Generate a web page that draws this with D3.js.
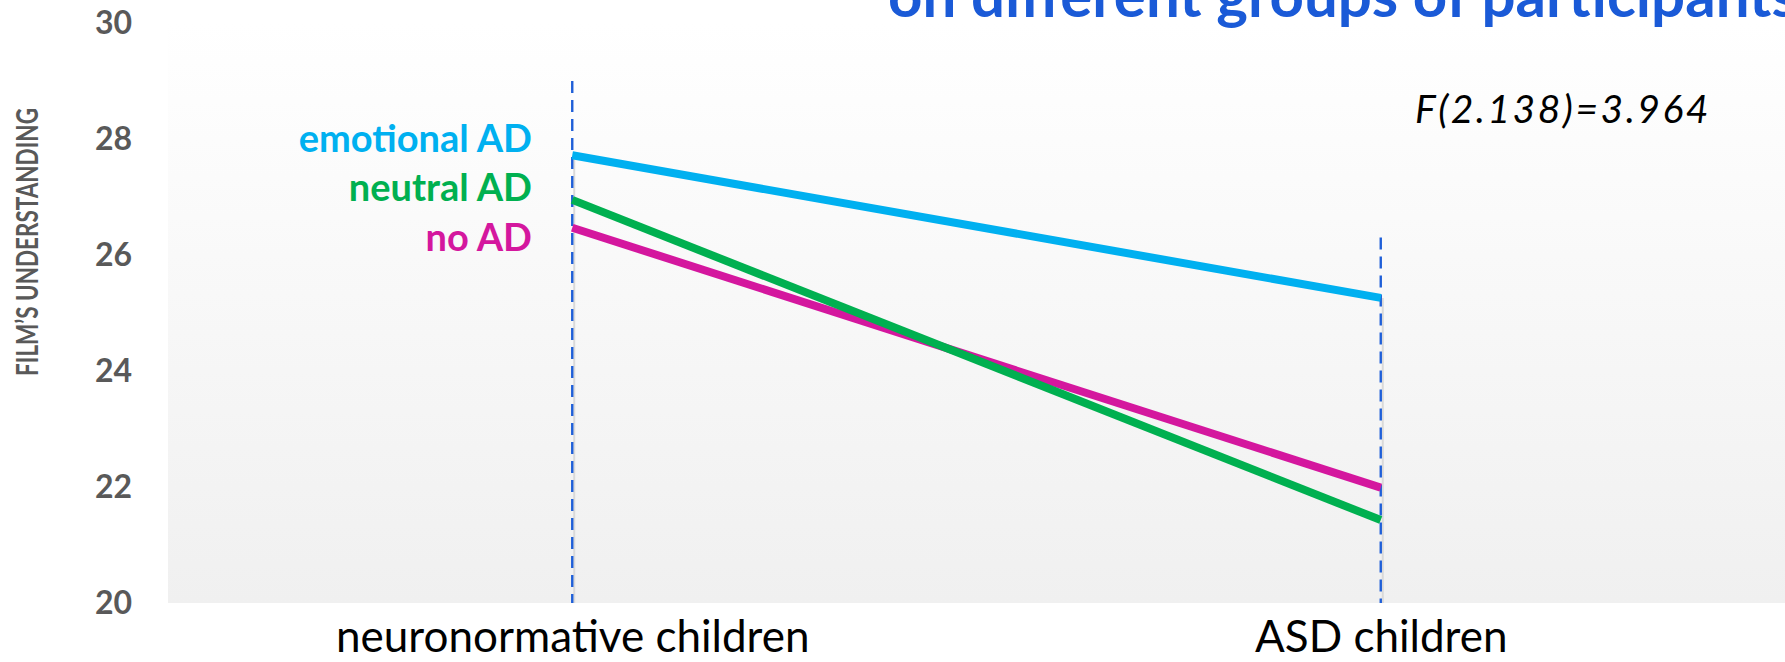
<!DOCTYPE html>
<html>
<head>
<meta charset="utf-8">
<script src="https://cdn.jsdelivr.net/npm/d3@7"></script>
<style>
  body { margin: 0; background: #fff; }
  svg { display: block; }
  text { font-family: Lato, "Open Sans", sans-serif; }
</style>
</head>
<body>
<script>
// chart values
var groups = ["neuronormative children", "ASD children"];
var seriesNames = ["emotional AD", "neutral AD", "no AD"];
var emotionalAD = [27.72, 25.26];
var neutralAD = [26.95, 21.43];
var noAD = [26.47, 21.99];
var yTicks = [20, 22, 24, 26, 28, 30];
var dashTops = [29, 26.3];   // where the blue dashed markers start
var colours = ["#00b0f0", "#00b050", "#d4179e"];

var width = 1785, height = 662;
var svg = d3.select("body").append("svg")
    .attr("width", width)
    .attr("height", height);

var x = d3.scalePoint().domain(groups).range([168, 1785]).padding(0.5);
var y = d3.scaleLinear().domain([20, 30]).range([603, 23]);

// background gradient of the plot area
var defs = svg.append("defs");
var grad = defs.append("linearGradient")
    .attr("id", "bg").attr("x1", 0).attr("y1", 0).attr("x2", 0).attr("y2", 1);
grad.append("stop").attr("offset", "0%").attr("stop-color", "#ffffff");
grad.append("stop").attr("offset", "100%").attr("stop-color", "#f0f0f0");

svg.append("rect")
    .attr("x", 168).attr("y", y(30))
    .attr("width", 1785 - 168).attr("height", y(20) - y(30))
    .attr("fill", "url(#bg)");

// title (only the bottom line is visible)
svg.append("text")
    .attr("x", 888).attr("y", 17)
    .attr("fill", "#1a5ad7")
    .style("font-weight", "bold")
    .style("font-size", "60px")
    .text("on different groups of participants");

// y axis
var yAxis = svg.append("g")
    .attr("transform", "translate(168,0)")
    .call(d3.axisLeft(y).tickValues(yTicks).tickSize(0).tickPadding(36));
yAxis.select(".domain").remove();
yAxis.selectAll("text")
    .attr("fill", "#595959")
    .style("font-family", "Lato, sans-serif")
    .style("font-weight", "bold")
    .style("font-size", "32px");

svg.append("text")
    .attr("transform", "translate(38,242) rotate(-90)")
    .attr("text-anchor", "middle")
    .attr("fill", "#595959")
    .attr("textLength", 268)
    .attr("lengthAdjust", "spacingAndGlyphs")
    .style("font-weight", "bold")
    .style("font-size", "31px")
    .text("FILM\u2019S UNDERSTANDING");

// x axis labels
var xAxis = svg.append("g")
    .attr("transform", "translate(0,603)")
    .call(d3.axisBottom(x).tickSize(0).tickPadding(18));
xAxis.select(".domain").remove();
xAxis.selectAll("text")
    .attr("fill", "#000")
    .style("font-family", "Lato, sans-serif")
    .style("font-size", "44px");

// grey drop lines and blue dashed markers
var allSeries = [emotionalAD, neutralAD, noAD];
groups.forEach(function(g, i) {
  var top = d3.max(allSeries, function(s) { return s[i]; });
  svg.append("line")
      .attr("x1", x(g) + 2).attr("x2", x(g) + 2)
      .attr("y1", y(top)).attr("y2", y(20))
      .attr("stroke", "#d9d9d9").attr("stroke-width", 2);
  svg.append("line")
      .attr("x1", x(g)).attr("x2", x(g))
      .attr("y1", y(dashTops[i])).attr("y2", y(20))
      .attr("stroke", "#1f5fd8").attr("stroke-width", 2.4)
      .attr("stroke-dasharray", "12,7");
});

// series lines
var line = d3.line()
    .x(function(d, i) { return x(groups[i]); })
    .y(function(d) { return y(d); });

// noAD first, then neutral, then emotional (green sits over magenta)
[2, 1, 0].forEach(function(k) {
  svg.append("path")
      .datum(allSeries[k])
      .attr("d", line)
      .attr("fill", "none")
      .attr("stroke", colours[k])
      .attr("stroke-width", 8);
});

// legend labels
var legendY = [152, 201, 251];
seriesNames.forEach(function(n, k) {
  svg.append("text")
      .attr("x", 532).attr("y", legendY[k])
      .attr("text-anchor", "end")
      .attr("fill", colours[k])
      .style("font-weight", "bold")
      .style("font-size", "38px")
      .text(n);
});

// F statistic
svg.append("text")
    .attr("x", 1415).attr("y", 123)
    .attr("fill", "#000")
    .style("font-style", "italic")
    .style("font-size", "39px")
    .style("letter-spacing", "2.5px")
    .text("F(2.138)=3.964");
</script>
</body>
</html>
